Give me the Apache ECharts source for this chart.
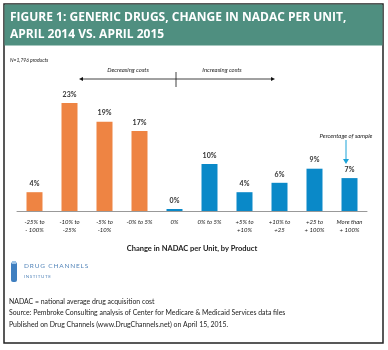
<!DOCTYPE html>
<html>
<head>
<meta charset="utf-8">
<script src="https://cdn.jsdelivr.net/npm/echarts@6/dist/echarts.min.js"></script>
<style>
html,body{margin:0;padding:0;background:#fff;}
#chart{width:388px;height:350px;}
</style>
</head>
<body>
<div id="chart"></div>
<script>
// categories (change in NADAC per unit)
var categories=["-25% to\n- 100%","-10% to\n-25%","-5% to\n-10%","-0% to 5%","0%","0% to 5%","+5% to\n+10%","+10% to\n+25","+25 to\n+ 100%","More than\n+ 100%"];
// percentage of sample
var values=[4,23,19,17,0,10,4,6,9,7];
// first 4 bars are decreasing costs
var decreasingCount=4;

var orange='#EE8443';
var blue='#0A89C8';
var green='#4F8F80';

function loadChart(){
    var mychart=echarts.init(document.getElementById('chart'));
    var barData=values.map(function(v,i){
        return {value:v,itemStyle:{color:i<decreasingCount?orange:blue}};
    });
    var option={
        animation:false,
        grid:{left:17,right:21,top:70,bottom:139},
        xAxis:{
            type:'category',
            data:categories,
            axisLine:{lineStyle:{color:'#999',width:1}},
            axisTick:{length:4,lineStyle:{color:'#999'}},
            axisLabel:{
                interval:0,margin:7,color:'#222',fontSize:6,fontStyle:'italic',
                fontFamily:'Lato',lineHeight:8
            },
            name:'Change in NADAC per Unit, by Product',
            nameLocation:'middle',
            nameGap:34,
            nameTextStyle:{fontSize:7.5,fontWeight:'bold',color:'#222',fontFamily:'Lato'}
        },
        yAxis:{type:'value',min:0,max:30,show:false},
        series:[{
            type:'bar',
            data:barData,
            barWidth:16,
            barMinHeight:2,
            label:{
                show:true,position:'top',distance:5,
                formatter:'{c}%',fontSize:7,fontWeight:'bold',color:'#333',fontFamily:'Lato'
            }
        }],
        graphic:[
            //外框
            {type:'rect',shape:{x:4,y:4,width:379,height:339},style:{fill:'none',stroke:'#222',lineWidth:1.5}},
            //标题背景
            {type:'rect',shape:{x:4.5,y:4.5,width:378,height:41},style:{fill:green}},
            {type:'text',x:10,y:9,style:{text:'FIGURE 1: GENERIC DRUGS, CHANGE IN NADAC PER UNIT,\nAPRIL 2014 VS. APRIL 2015',fill:'#fff',font:'bold 12px "Open Sans"',lineHeight:17}},
            {type:'text',x:10,y:58,style:{text:'N=1,796 products',fill:'#222',font:'italic 5px Lato'}},
            //箭头
            {type:'line',shape:{x1:81,y1:79,x2:273,y2:79},style:{stroke:'#111',lineWidth:0.8}},
            {type:'line',shape:{x1:176,y1:72,x2:176,y2:87},style:{stroke:'#111',lineWidth:0.8}},
            {type:'polygon',shape:{points:[[79,79],[83,77],[83,81]]},style:{fill:'#111'}},
            {type:'polygon',shape:{points:[[275,79],[271,77],[271,81]]},style:{fill:'#111'}},
            {type:'text',x:128,y:70,style:{text:'Decreasing costs',fill:'#222',font:'italic 6px Lato',align:'center',verticalAlign:'middle'}},
            {type:'text',x:222,y:70,style:{text:'Increasing costs',fill:'#222',font:'italic 6px Lato',align:'center',verticalAlign:'middle'}},
            {type:'text',x:346,y:136,style:{text:'Percentage of sample',fill:'#222',font:'italic 6px Lato',align:'center',verticalAlign:'middle'}},
            {type:'line',shape:{x1:346,y1:140,x2:346,y2:161},style:{stroke:'#1BA3D8',lineWidth:1}},
            {type:'polygon',shape:{points:[[346,164],[343,159],[349,159]]},style:{fill:'#1BA3D8'}},
            //logo
            {type:'rect',shape:{x:11,y:262,width:6,height:20,r:2},style:{fill:'#3F7FC0'}},
            {type:'rect',shape:{x:12,y:261,width:4,height:3},style:{fill:'#9CC3E6'}},
            {type:'text',x:24,y:262,style:{text:'D\u2009R\u2009U\u2009G\u2009 \u2009C\u2009H\u2009A\u2009N\u2009N\u2009E\u2009L\u2009S',fill:'#5586BA',font:'6.5px Lato'}},
            {type:'text',x:24,y:274,style:{text:'I\u2009N\u2009S\u2009T\u2009I\u2009T\u2009U\u2009T\u2009E',fill:'#5586BA',font:'4.5px Lato'}},
            //脚注
            {type:'text',x:9,y:296,style:{text:'NADAC = national average drug acquisition cost\nSource: Pembroke Consulting analysis of Center for Medicare & Medicaid Services data files\nPublished on Drug Channels (www.DrugChannels.net) on April 15, 2015.',fill:'#222',font:'6.9px Lato',lineHeight:11.5}}
        ]
    };
    mychart.setOption(option);
}
loadChart();
</script>
</body>
</html>
